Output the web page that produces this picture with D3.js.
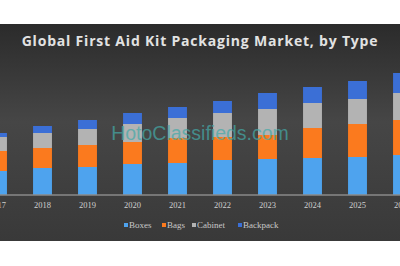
<!DOCTYPE html>
<html>
<head>
<meta charset="utf-8">
<script src="https://cdn.jsdelivr.net/npm/d3@7"></script>
<style>
  body { margin: 0; background: #fff; }
  svg { display: block; }
</style>
</head>
<body>
<div id="chart"></div>
<script>
const years = ['2017', '2018', '2019', '2020', '2021', '2022', '2023', '2024', '2025', '2026'];
const types = ['Boxes', 'Bags', 'Cabinet', 'Backpack'];
const boxes    = [24, 27, 28, 31, 32, 35, 36, 37, 38, 40];
const bags     = [20, 20, 22, 22, 25, 23, 24, 30, 33, 35];
const cabinet  = [14, 15, 16, 18, 20, 24, 26, 25, 25, 27];
const backpack = [ 4,  7,  9, 11, 11, 12, 16, 16, 18, 20];
const colors = ['#4ea3ee', '#fb7a1e', '#b3b3b3', '#3b6fd6'];

const W = 400, H = 266;
const panel = {top: 24, bottom: 241};

const rows = years.map((yr, i) => ({
    year: yr,
    Boxes: boxes[i], Bags: bags[i], Cabinet: cabinet[i], Backpack: backpack[i]
}));
const series = d3.stack().keys(types)(rows);

const x = d3.scaleBand()
    .domain(years)
    .range([-25, 425])
    .paddingInner(0.58)
    .paddingOuter(0.29);

const y = d3.scaleLinear()
    .domain([0, 140])
    .range([195, 55]);

const svg = d3.select('#chart').append('svg')
    .attr('width', W)
    .attr('height', H);

const defs = svg.append('defs');
const grad = defs.append('linearGradient')
    .attr('id', 'bg')
    .attr('x1', 0).attr('y1', 0).attr('x2', 0).attr('y2', 1);
grad.append('stop').attr('offset', '0%').attr('stop-color', '#2b2b2b');
grad.append('stop').attr('offset', '45%').attr('stop-color', '#464646');
grad.append('stop').attr('offset', '100%').attr('stop-color', '#393939');

svg.append('rect')
    .attr('x', 0)
    .attr('y', panel.top)
    .attr('width', W)
    .attr('height', panel.bottom - panel.top)
    .attr('fill', 'url(#bg)');

svg.append('text')
    .attr('x', W / 2)
    .attr('y', 46)
    .attr('text-anchor', 'middle')
    .style('font-family', 'Open Sans, DejaVu Sans, sans-serif')
    .style('font-weight', 'bold')
    .style('font-size', '14px')
    .style('letter-spacing', '0.8px')
    .style('fill', '#e2e2e2')
    .text('Global First Aid Kit Packaging Market, by Type');

svg.append('g')
    .selectAll('g')
    .data(series)
    .join('g')
    .attr('fill', (d, i) => colors[i])
    .selectAll('rect')
    .data(d => d)
    .join('rect')
    .attr('x', d => x(d.data.year))
    .attr('width', x.bandwidth())
    .attr('y', d => y(d[1]))
    .attr('height', d => y(d[0]) - y(d[1]));

const xAxis = svg.append('g')
    .attr('transform', 'translate(0,' + y(0) + ')')
    .call(d3.axisBottom(x).tickSize(0).tickPadding(7));
xAxis.select('.domain')
    .attr('stroke', '#8a8a8a')
    .attr('stroke-width', 1.5)
    .attr('d', 'M0,0H' + W);
xAxis.selectAll('text')
    .style('font-family', 'Liberation Serif, serif')
    .style('font-size', '8.5px')
    .style('fill', '#cfcfcf');

// watermark
svg.append('text')
    .attr('x', 200)
    .attr('y', 140)
    .attr('text-anchor', 'middle')
    .style('font-family', 'Liberation Sans, Arial, sans-serif')
    .style('font-size', '19.5px')
    .style('fill', '#44aaa8')
    .style('opacity', 0.7)
    .text('HotoClassifieds.com');

const legendX = [124, 162, 192, 238];
const legend = svg.append('g')
    .selectAll('g')
    .data(types)
    .join('g')
    .attr('transform', (d, i) => 'translate(' + legendX[i] + ',226)');
legend.append('rect')
    .attr('x', 0)
    .attr('y', -3)
    .attr('width', 4)
    .attr('height', 4)
    .attr('fill', (d, i) => colors[i]);
legend.append('text')
    .attr('x', 5)
    .attr('y', 2)
    .style('font-family', 'Liberation Serif, serif')
    .style('font-size', '9px')
    .style('fill', '#c8c8c8')
    .text(d => d);
</script>
</body>
</html>
